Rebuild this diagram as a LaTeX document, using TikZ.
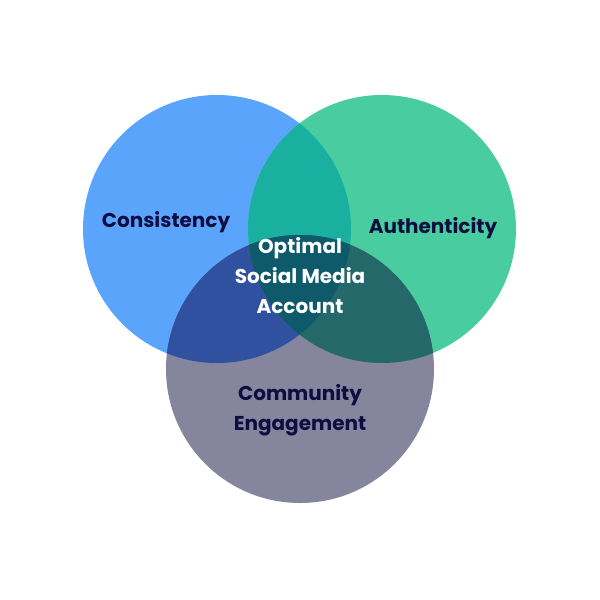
\documentclass[tikz,border=0pt]{standalone}
\usepackage{fontspec}
\setmainfont{Poppins}
\definecolor{cblue}{HTML}{5BA4FC}
\definecolor{cgreen}{HTML}{49CCA0}
\definecolor{cgray}{HTML}{85859E}
\definecolor{cbg}{HTML}{1AB0A0}
\definecolor{cbgr}{HTML}{3050A0}
\definecolor{cggr}{HTML}{24686A}
\definecolor{cmid}{HTML}{0F5A6A}
\definecolor{ctxt}{HTML}{0D0D40}
\tikzset{lbl/.style={font=\fontsize{20}{30}\selectfont\bfseries,text=ctxt,align=center}}
\begin{document}
\begin{tikzpicture}[x=1pt,y=-1pt]
\useasboundingbox (0,0) rectangle (600,600);
\def\circB{(217,229) circle (134)}
\def\circG{(382,229) circle (134)}
\def\circR{(300,369) circle (134)}
\fill[cblue] \circB; \fill[cgreen] \circG; \fill[cgray] \circR;
\begin{scope}\clip \circB; \fill[cbg] \circG; \end{scope}
\begin{scope}\clip \circB; \fill[cbgr] \circR; \end{scope}
\begin{scope}\clip \circG; \fill[cggr] \circR; \end{scope}
\begin{scope}\clip \circB; \clip \circG; \fill[cmid] \circR; \end{scope}
\node[lbl] (a) at (166,222) {Consistency};
\node[lbl] (b) at (433,228) {Authenticity};
\node[lbl] (c) at (300,410) {Community\\Engagement};
\node[lbl,text=white] (d) at (300,276) {Optimal\\Social Media\\Account};
\end{tikzpicture}
\end{document}
